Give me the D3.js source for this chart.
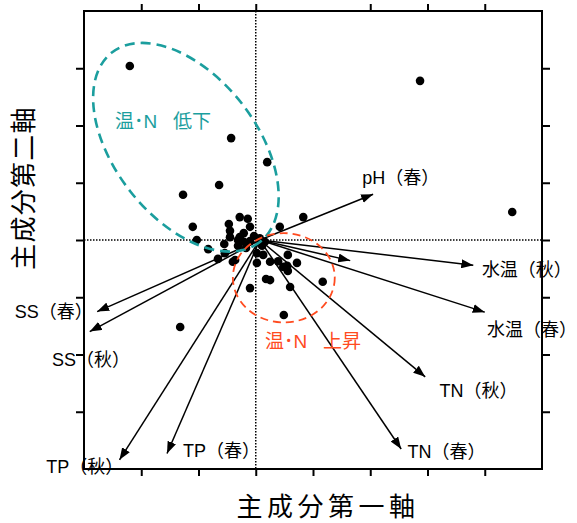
<!DOCTYPE html>
<html>
<head>
<meta charset="utf-8">
<script src="https://cdnjs.cloudflare.com/ajax/libs/d3/7.8.5/d3.min.js"></script>
<style>
body { margin: 0; background: #fff; }
svg text { font-family: "Liberation Sans", Arial, "Noto Sans CJK JP", sans-serif; }
</style>
</head>
<body>
<div id="chart"></div>
<script>
//Sample scores on the first and second principal components
const scoreX = [-2.20, -0.43, 0.20, -0.64, -1.27, -1.10, -1.03, -0.28, -0.14, -0.47, -0.45, -0.10, -0.21,
    -0.45, 0.42, 0.83, -0.55, -0.83, -0.66, 2.87, 4.48, -0.31, -0.21, -0.10, -0.31, -0.17, -0.54, -0.36,
    0.07, 0.16, 0.02, 0.13, 0.02, 0.25, 0.39, 0.56, 0.72, 0.55, 0.56, 0.18, 0.25, 0.60, -0.10, 0.49,
    -1.32, 1.17, 0.48, -0.28, -0.40, -0.03, 0.11];
const scoreY = [3.04, 1.78, 1.36, 0.96, 0.79, 0.23, 0.00, 0.40, 0.37, 0.28, 0.16, 0.23, 0.12,
    0.05, 0.23, 0.40, -0.07, -0.16, -0.33, 2.78, 0.49, 0.00, -0.03, -0.02, -0.10, -0.14, -0.23, -0.35,
    0.03, -0.03, -0.23, -0.26, -0.40, -0.38, -0.37, -0.26, -0.40, -0.45, -0.54, -0.68, -0.70, -0.82, -0.84, -1.31,
    -1.52, -0.73, -0.47, 0.05, -0.38, 0.07, -0.10];
//Variable loadings (arrows) and where their names sit
const varNames = ['pH（春）', '', '水温（秋）', '水温（春）', 'TN（秋）', 'TN（春）', 'TP（春）', 'TP（秋）', 'SS（春）', 'SS（秋）'];
const loadX = [2.05, 1.65, 3.80, 4.00, 2.96, 2.54, -1.55, -2.38, -2.77, -2.90];
const loadY = [0.80, -0.36, -0.44, -1.26, -2.39, -3.65, -3.73, -3.84, -1.25, -1.60];
const labelX = [1.86, 0, 3.95, 4.04, 3.21, 2.65, -1.27, -3.66, -4.21, -3.56];
const labelY = [1.08, 0, -0.52, -1.57, -2.64, -3.70, -3.68, -3.96, -1.25, -2.10];
const arrowOrigin = [0.07, 0];
//Group outlines
const groupNames = ['温･N\u00a0\u00a0\u00a0低下', '温･N\u00a0\u00a0\u00a0上昇'];
const groupColors = ['#1b9e9e', '#ff4b1f'];
const groupCx = [-1.22, 0.49];
const groupCy = [1.62, -0.66];
const groupRx = [2.10, 0.89];
const groupRy = [1.24, 0.78];
const groupAngle = [52, 0];
const groupLabelX = [-2.46, 0.16];
const groupLabelY = [2.07, -1.78];
const xTicks = [-2, -1, 0, 1, 2, 3, 4];
const yTicks = [-3, -2, -1, 0, 1, 2, 3];

const width = 577, height = 523;
const margin = { top: 11, right: 35, bottom: 54, left: 84 };

const svg = d3.select('#chart').append('svg')
    .attr('width', width)
    .attr('height', height);

const xScale = d3.scaleLinear()
    .domain([-3, 5])
    .range([margin.left, width - margin.right]);
const yScale = d3.scaleLinear()
    .domain([-4, 4])
    .range([height - margin.bottom, margin.top]);
const unit = xScale(1) - xScale(0);

svg.append('defs').append('marker')
    .attr('id', 'head')
    .attr('markerUnits', 'userSpaceOnUse')
    .attr('viewBox', '0 0 12 9')
    .attr('refX', 12)
    .attr('refY', 4.5)
    .attr('markerWidth', 12)
    .attr('markerHeight', 9)
    .attr('orient', 'auto')
    .append('path')
    .attr('d', 'M0,0 L12,4.5 L0,9 Z')
    .attr('fill', '#000');

//Zero lines
svg.append('line')
    .attr('x1', xScale(0)).attr('x2', xScale(0))
    .attr('y1', yScale(4)).attr('y2', yScale(-4))
    .attr('stroke', '#000').attr('stroke-width', 1.5).attr('stroke-dasharray', '1.5,1.5');
svg.append('line')
    .attr('x1', xScale(-3)).attr('x2', xScale(5))
    .attr('y1', yScale(0)).attr('y2', yScale(0))
    .attr('stroke', '#000').attr('stroke-width', 1.5).attr('stroke-dasharray', '1.5,1.5');

//Axes, all ticks outside, no labels
function styleAxis(g) {
    g.select('.domain').remove();
    g.selectAll('.tick line').attr('stroke', '#000').attr('stroke-width', 2);
    g.selectAll('.tick text').remove();
}
svg.append('g')
    .attr('transform', 'translate(0,' + yScale(-4) + ')')
    .call(d3.axisBottom(xScale).tickValues(xTicks).tickSize(7))
    .call(styleAxis);
svg.append('g')
    .attr('transform', 'translate(0,' + yScale(4) + ')')
    .call(d3.axisTop(xScale).tickValues(xTicks.filter(function(d) { return d !== 1; })).tickSize(7))
    .call(styleAxis);
svg.append('g')
    .attr('transform', 'translate(' + xScale(-3) + ',0)')
    .call(d3.axisLeft(yScale).tickValues(yTicks).tickSize(8))
    .call(styleAxis);
svg.append('g')
    .attr('transform', 'translate(' + xScale(5) + ',0)')
    .call(d3.axisRight(yScale).tickValues(yTicks).tickSize(8))
    .call(styleAxis);

svg.append('rect')
    .attr('x', xScale(-3))
    .attr('y', yScale(4))
    .attr('width', xScale(5) - xScale(-3))
    .attr('height', yScale(-4) - yScale(4))
    .attr('fill', 'none')
    .attr('stroke', '#000')
    .attr('stroke-width', 2);

//Scores
svg.append('g').selectAll('circle')
    .data(d3.range(scoreX.length))
    .enter()
    .append('circle')
    .attr('cx', function(i) { return xScale(scoreX[i]); })
    .attr('cy', function(i) { return yScale(scoreY[i]); })
    .attr('r', 4.3)
    .attr('fill', '#000');

//Loadings
svg.append('g').selectAll('line')
    .data(d3.range(varNames.length))
    .enter()
    .append('line')
    .attr('x1', xScale(arrowOrigin[0]))
    .attr('y1', yScale(arrowOrigin[1]))
    .attr('x2', function(i) { return xScale(loadX[i]); })
    .attr('y2', function(i) { return yScale(loadY[i]); })
    .attr('stroke', '#000')
    .attr('stroke-width', 1.5)
    .attr('marker-end', 'url(#head)');

svg.append('g').selectAll('text')
    .data(d3.range(varNames.length).filter(function(i) { return varNames[i] !== ''; }))
    .enter()
    .append('text')
    .attr('x', function(i) { return xScale(labelX[i]); })
    .attr('y', function(i) { return yScale(labelY[i]); })
    .attr('dominant-baseline', 'central')
    .attr('font-size', 18)
    .attr('fill', '#000')
    .text(function(i) { return varNames[i]; });

//Group ellipses
const groups = svg.append('g').selectAll('g')
    .data(d3.range(groupNames.length))
    .enter()
    .append('g');
groups.append('ellipse')
    .attr('transform', function(i) {
        return 'translate(' + xScale(groupCx[i]) + ',' + yScale(groupCy[i]) + ') rotate(' + groupAngle[i] + ')';
    })
    .attr('rx', function(i) { return groupRx[i] * unit; })
    .attr('ry', function(i) { return groupRy[i] * unit; })
    .attr('fill', 'none')
    .attr('stroke', function(i) { return groupColors[i]; })
    .attr('stroke-width', function(i) { return i === 0 ? 2.6 : 1.8; })
    .attr('stroke-dasharray', function(i) { return i === 0 ? '10,6' : '8,5'; });
groups.append('text')
    .attr('x', function(i) { return xScale(groupLabelX[i]); })
    .attr('y', function(i) { return yScale(groupLabelY[i]); })
    .attr('dominant-baseline', 'central')
    .attr('font-size', 19)
    .attr('fill', function(i) { return groupColors[i]; })
    .text(function(i) { return groupNames[i]; });

//Axis titles
svg.append('text')
    .attr('x', 328)
    .attr('y', 507)
    .attr('text-anchor', 'middle')
    .attr('dominant-baseline', 'central')
    .attr('font-size', 26)
    .attr('letter-spacing', 4.5)
    .attr('fill', '#000')
    .text('主成分第一軸');
svg.append('text')
    .attr('transform', 'translate(24,188) rotate(-90)')
    .attr('text-anchor', 'middle')
    .attr('dominant-baseline', 'central')
    .attr('font-size', 26)
    .attr('letter-spacing', 1.3)
    .attr('fill', '#000')
    .text('主成分第二軸');
</script>
</body>
</html>
